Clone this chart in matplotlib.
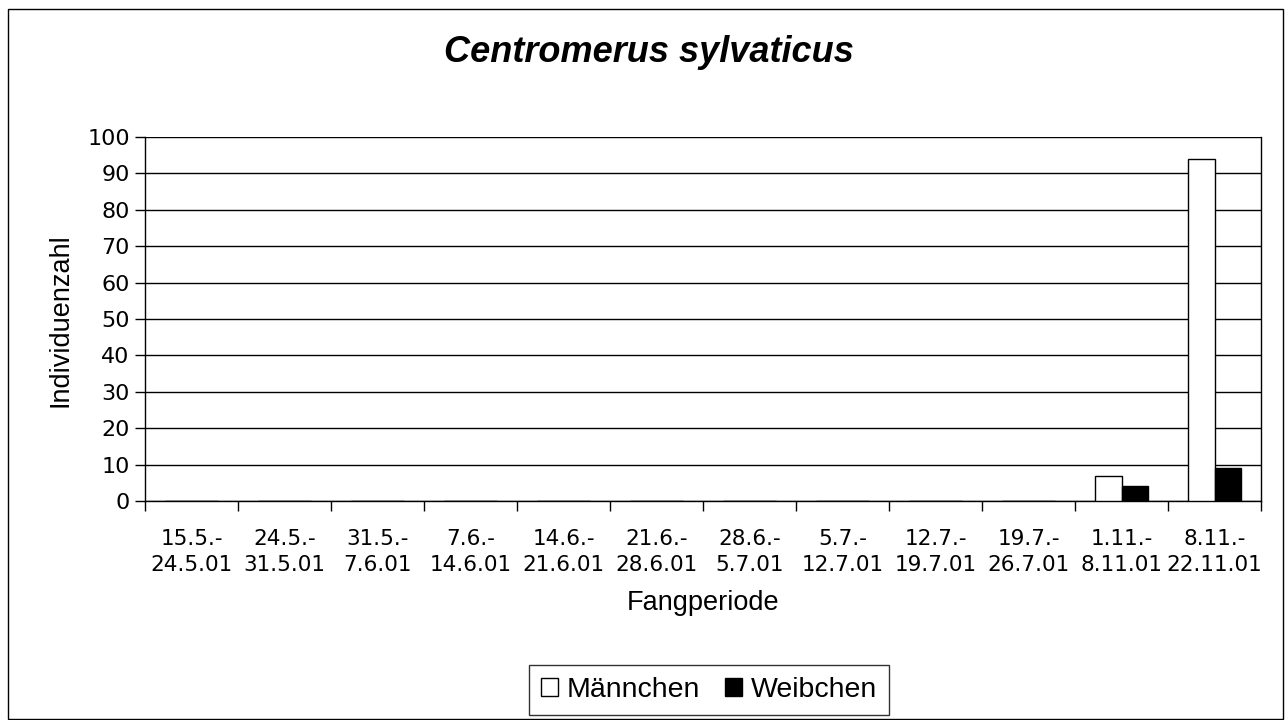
import numpy as np
import matplotlib
matplotlib.use("Agg")
import matplotlib.pyplot as plt
from matplotlib.patches import Rectangle

# Fangperioden (x categories)
periods = ["15.5.-\n24.5.01", "24.5.-\n31.5.01", "31.5.-\n7.6.01", "7.6.-\n14.6.01",
           "14.6.-\n21.6.01", "21.6.-\n28.6.01", "28.6.-\n5.7.01", "5.7.-\n12.7.01",
           "12.7.-\n19.7.01", "19.7.-\n26.7.01", "1.11.-\n8.11.01", "8.11.-\n22.11.01"]
maennchen = [0, 0, 0, 0, 0, 0, 0, 0, 0, 0, 7, 94]
weibchen = [0, 0, 0, 0, 0, 0, 0, 0, 0, 0, 4, 9]
yticks = list(range(0, 101, 10))

W, H = 1287, 720
fig = plt.figure(figsize=(W / 100, H / 100), dpi=100)
ax = fig.add_axes([145 / W, 1 - 501 / H, (1261 - 145) / W, (501 - 137) / H])

x = np.arange(len(periods))
bw = 0.29
ax.bar(x - bw / 2, maennchen, bw, color="white", edgecolor="black", linewidth=1.0,
       label="Männchen", zorder=3)
ax.bar(x + bw / 2, weibchen, bw, color="black", edgecolor="black", linewidth=1.0,
       label="Weibchen", zorder=3)

ax.set_xlim(-0.5, len(periods) - 0.5)
ax.set_ylim(0, 100)
ax.set_yticks(yticks)
ax.yaxis.grid(True, color="black", linewidth=1.0, zorder=0)
ax.set_axisbelow(True)

# category labels between boundary ticks
ax.set_xticks(np.arange(-0.5, len(periods)), minor=False)
ax.set_xticklabels([])
ax.set_xticks(x, minor=True)
ax.set_xticklabels(periods, minor=True, fontsize=15.5, family="DejaVu Sans",
                   linespacing=1.4)
ax.tick_params(axis="x", which="major", length=7, direction="out", width=1)
ax.tick_params(axis="x", which="minor", length=0, pad=20)
ax.tick_params(axis="y", length=7, width=1, direction="out", labelsize=16, pad=4)
for lab in ax.get_yticklabels():
    lab.set_family("DejaVu Sans")

for s in ["left", "bottom", "right"]:
    ax.spines[s].set_color("black")
    ax.spines[s].set_linewidth(1.0)
ax.spines["top"].set_visible(False)

fig.text(60 / W, 1 - 320 / H, "Individuenzahl", rotation=90, ha="center", va="center",
         fontsize=19.5, family="Liberation Sans")
fig.text(703 / W, 1 - 603 / H, "Fangperiode", ha="center", va="center",
         fontsize=19.5, family="Liberation Sans")

fig.text(649 / W, 1 - 53 / H, "Centromerus sylvaticus", ha="center", va="center",
         fontsize=26, fontweight="bold", fontstyle="italic", family="Liberation Sans")

leg = fig.legend(loc="center", bbox_to_anchor=(709 / W, 1 - 690 / H), ncol=2,
                 frameon=True, fancybox=False, edgecolor="black",
                 prop={"family": "Liberation Sans", "size": 20.5},
                 handlelength=0.6, handleheight=0.6, handletextpad=0.3,
                 columnspacing=0.9, borderpad=0.42)
leg.get_frame().set_linewidth(1.0)

# outer chart frame
fig.patches.append(Rectangle((8 / W, 1 / H), (1283 - 8) / W, (711 - 1) / H,
                             transform=fig.transFigure, fill=False,
                             edgecolor="black", linewidth=1.0))

fig.savefig("out.png", dpi=100)
